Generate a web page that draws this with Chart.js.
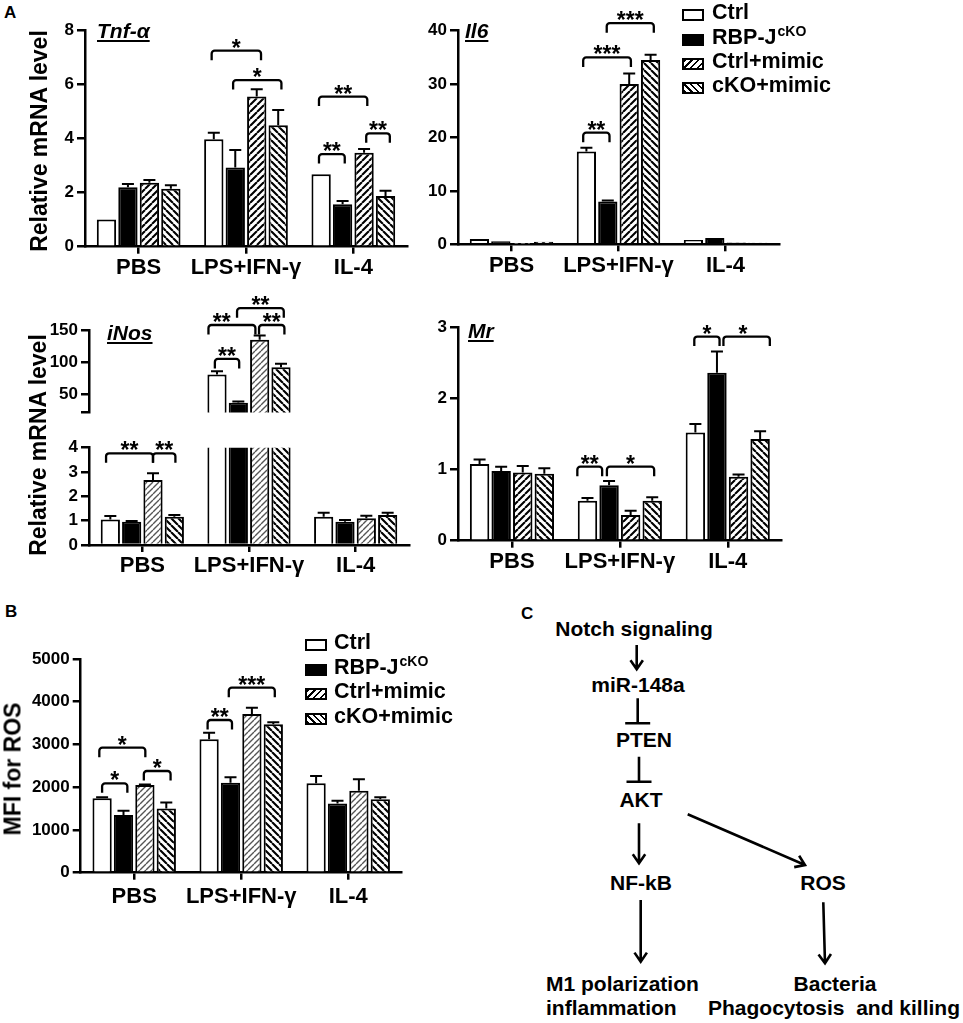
<!DOCTYPE html>
<html><head><meta charset="utf-8">
<script src="https://cdn.jsdelivr.net/npm/chart.js@4.4.0/dist/chart.umd.min.js"></script>
<style>
body{margin:0;background:#fff;width:963px;height:1023px;position:relative;overflow:hidden;font-family:"Liberation Sans",Arial,sans-serif;font-weight:bold;color:#000}
canvas{position:absolute}
.a{position:absolute;white-space:nowrap;line-height:1}
.yt{position:absolute;white-space:nowrap;line-height:1;font-size:23px;transform:translate(-50%,-50%) rotate(-90deg)}
.gt{position:absolute;white-space:nowrap;line-height:1;font-size:21px;font-style:italic;text-decoration:underline;text-decoration-thickness:1.5px;text-underline-offset:2px}
.sw{position:absolute;width:22px;height:12px;box-sizing:border-box;border:2px solid #000}
.lt{position:absolute;white-space:nowrap;line-height:1;font-size:21.5px}
.lt sup{font-size:14px;vertical-align:0;position:relative;top:-8px;margin-left:1px}
.dt{position:absolute;white-space:pre;line-height:1;font-size:21px;transform:translate(-50%,-50%)}
.dl{position:absolute;white-space:pre;line-height:1;font-size:21px;transform:translate(0,-50%)}
</style></head>
<body>
<script>
const FONT = '"Liberation Sans", Arial, sans-serif';
const categories = ['PBS', 'LPS+IFN-γ', 'IL-4'];
const seriesNames = ['Ctrl', 'RBP-J cKO', 'Ctrl+mimic', 'cKO+mimic'];

// Tnf-α
const tnfTicks = [0, 2, 4, 6, 8];
const tnfCtrl = [1.01, 3.98, 2.68], tnfCtrlErr = [0, 0.24, 0];
const tnfKO   = [2.20, 2.93, 1.57], tnfKOErr   = [0.12, 0.65, 0.12];
const tnfCM   = [2.37, 5.56, 3.48], tnfCMErr   = [0.10, 0.27, 0.14];
const tnfKM   = [2.15, 4.50, 1.88], tnfKMErr   = [0.13, 0.56, 0.19];
const tnfSig  = [[1, -0.1, 2.2, 7.26, '*'], [1, 0.9, 3.15, 6.17, '*'], [2, -0.1, 2.15, 5.56, '**'], [2, -0.1, 1.1, 3.43, '**'], [2, 2.1, 3.2, 4.2, '**']];

// Il6
const il6Ticks = [0, 10, 20, 30, 40];
const il6Ctrl = [1.0, 17.4, 0.8], il6CtrlErr = [0, 0.7, 0];
const il6KO   = [0.55, 8.0, 1.2], il6KOErr   = [0, 0.2, 0];
const il6CM   = [0.1, 30.0, 0.35], il6CMErr  = [0, 2.0, 0];
const il6KM   = [0.5, 34.5, 0.3], il6KMErr   = [0, 1.0, 0];
const il6Sig  = [[1, -0.15, 1.08, 20.9, '**'], [1, -0.15, 2.08, 35.0, '***'], [1, 0.95, 3.15, 41.4, '***']];

// iNos (broken axis)
const inosTicksHigh = [22, 50, 100, 150];
const inosTicksLow = [0, 1, 2, 3, 4];
const inosCtrl = [1.05, 81, 1.16], inosCtrlErr = [0.14, 5, 0.17];
const inosKO   = [0.96, 37, 0.96], inosKOErr   = [0.03, 2, 0.07];
const inosCM   = [2.67, 135, 1.10], inosCMErr  = [0.28, 6.5, 0.10];
const inosKM   = [1.16, 92, 1.23], inosKMErr   = [0.07, 5.6, 0.10];
const inosSigLow  = [[0, -0.2, 2, 3.77, '**'], [0, 2, 3.05, 3.77, '**']];
const inosSigHigh = [[1, -0.1, 1.04, 105, '**'], [1, -0.4, 1.8, 157.8, '**', 0.22], [1, 1.97, 3.16, 157.8, '**'], [1, 0.94, 3.13, 183.9, '**']];

// Mr
const mrTicks = [0, 1, 2, 3];
const mrCtrl = [1.08, 0.56, 1.52], mrCtrlErr = [0.06, 0.04, 0.12];
const mrKO   = [0.98, 0.78, 2.36], mrKOErr   = [0.06, 0.06, 0.30];
const mrCM   = [0.96, 0.36, 0.90], mrCMErr   = [0.09, 0.06, 0.03];
const mrKM   = [0.94, 0.56, 1.43], mrKMErr   = [0.08, 0.05, 0.11];
const mrSig  = [[1, -0.47, 0.68, 1.04, '**'], [1, 0.9, 3.09, 1.04, '*'], [2, -0.05, 1.12, 2.87, '*'], [2, 1.3, 3.45, 2.87, '*', 2.2]];

// ROS
const rosTicks = [0, 1000, 2000, 3000, 4000, 5000];
const rosCtrl = [1740, 3120, 2090], rosCtrlErr = [25, 156, 172];
const rosKO   = [1350, 2106, 1622], rosKOErr   = [100, 125, 63];
const rosCM   = [2051, 3713, 1919], rosCMErr   = [15, 148, 265];
const rosKM   = [1505, 3471, 1716], rosKMErr   = [140, 47, 47];
const rosSig  = [[0, -0.13, 2.02, 2925, '*'], [0, 0, 1.18, 2090, '*'], [0, 1.95, 3.2, 2379, '*'], [1, -0.07, 1.07, 3573, '**'], [1, 0.92, 3.07, 4329, '***']];

function hatch(dir, color, lw, p) {
  const c = document.createElement('canvas');
  c.width = p; c.height = p;
  const g = c.getContext('2d');
  g.fillStyle = '#fff'; g.fillRect(0, 0, p, p);
  g.strokeStyle = color; g.lineWidth = lw;
  g.beginPath();
  for (let k = -1; k <= 1; k++) {
    if (dir > 0) { g.moveTo(k * p, p); g.lineTo(k * p + p, 0); }
    else { g.moveTo(k * p, 0); g.lineTo(k * p + p, p); }
  }
  g.stroke();
  return g.createPattern(c, 'repeat');
}
const patSlash = hatch(1, '#000', 2.1, 7);
const patBack = hatch(-1, '#000', 2.1, 7);
const patSlashGrey = hatch(1, '#555', 1.4, 6);

const marksPlugin = {
  id: 'marks',
  afterDatasetsDraw(chart, args, opts) {
    const ctx = chart.ctx, ys = chart.scales.y;
    ctx.save();
    ctx.strokeStyle = '#000'; ctx.lineWidth = 2;
    chart.data.datasets.forEach((ds, di) => {
      chart.getDatasetMeta(di).data.forEach((bar, i) => {
        const v = ds.data[i], e = opts.errs[di][i];
        if (!e || v < ys.min || v + e > ys.max) return;
        const yTop = ys.getPixelForValue(v + e);
        ctx.beginPath();
        ctx.moveTo(bar.x, bar.y); ctx.lineTo(bar.x, yTop);
        ctx.moveTo(bar.x - 6, yTop); ctx.lineTo(bar.x + 6, yTop);
        ctx.stroke();
      });
    });
    ctx.lineWidth = 2.3; ctx.fillStyle = '#000';
    ctx.font = 'bold 23px ' + FONT; ctx.textAlign = 'center'; ctx.textBaseline = 'alphabetic';
    (opts.sig || []).forEach(([cat, a, b, val, label, lx]) => {
      const b0 = chart.getDatasetMeta(0).data[cat], b1 = chart.getDatasetMeta(1).data[cat];
      const step = b1.x - b0.x;
      const xa = b0.x + a * step, xb = b0.x + b * step, y = ys.getPixelForValue(val);
      const leg = 9.5, r = 3;
      ctx.beginPath();
      ctx.moveTo(xa, y + leg); ctx.arcTo(xa, y, xa + r, y, r);
      ctx.arcTo(xb, y, xb, y + r, r); ctx.lineTo(xb, y + leg);
      ctx.stroke();
      const tx = lx === undefined ? (xa + xb) / 2 : b0.x + lx * step;
      ctx.fillText(label, tx, y + 5);
    });
    ctx.restore();
  }
};

function panel(o) {
  const cv = document.createElement('canvas');
  cv.width = o.w; cv.height = o.h;
  cv.style.left = o.left + 'px'; cv.style.top = o.top + 'px';
  document.body.appendChild(cv);
  const W = o.axL - o.left, padTop = o.axT - o.top, padRight = o.left + o.w - o.axR;
  const H = o.top + o.h - o.axB;
  const showX = o.showX !== false;
  const fills = ['#fff', '#000', o.greyCM ? patSlashGrey : patSlash, patBack];
  return new Chart(cv, {
    type: 'bar',
    data: {
      labels: categories,
      datasets: o.series.map((d, i) => ({
        label: seriesNames[i], data: d, backgroundColor: fills[i],
        borderColor: '#000', borderWidth: 2, categoryPercentage: 0.8, barPercentage: 0.9
      }))
    },
    options: {
      responsive: false, animation: false, events: [],
      layout: { padding: { left: 0, top: padTop, right: padRight, bottom: showX ? 0 : H } },
      plugins: { legend: { display: false }, tooltip: { enabled: false }, marks: { errs: o.errs, sig: o.sig } },
      scales: {
        x: {
          display: showX, offset: true,
          grid: { display: true, drawOnChartArea: false, drawTicks: true, tickLength: 7, lineWidth: 2.5, tickWidth: 2.5, tickColor: '#000', color: '#000', offset: false },
          border: { display: true, color: '#000', width: 2.5 },
          ticks: { color: '#000', font: { family: FONT, size: 22, weight: 'bold' }, padding: o.xpad || 1, maxRotation: 0, minRotation: 0, autoSkip: false },
          afterFit: s => { s.height = H; }
        },
        y: {
          min: o.min, max: o.max,
          afterBuildTicks: s => { s.ticks = o.ticks.map(v => ({ value: v })); },
          grid: { display: true, drawOnChartArea: false, drawTicks: true, tickLength: 8, lineWidth: 2.5, tickWidth: 2.5, tickColor: '#000', color: '#000' },
          border: { display: true, color: '#000', width: 2.5 },
          ticks: { color: '#000', font: { family: FONT, size: 17, weight: 'bold' }, padding: 3,
            callback: v => (o.hide && o.hide.includes(v)) ? '' : String(v) },
          afterFit: s => { s.width = W; }
        }
      }
    },
    plugins: [marksPlugin]
  });
}

panel({ left: 40, top: 0, w: 380, h: 290, axL: 85, axR: 407, axT: 30.7, axB: 246.7, min: 0, max: 8, ticks: tnfTicks,
  series: [tnfCtrl, tnfKO, tnfCM, tnfKM], errs: [tnfCtrlErr, tnfKOErr, tnfCMErr, tnfKMErr], sig: tnfSig });
panel({ left: 420, top: 0, w: 370, h: 290, axL: 458, axR: 779, axT: 30.7, axB: 244.3, min: 0, max: 40, ticks: il6Ticks,
  series: [il6Ctrl, il6KO, il6CM, il6KM], errs: [il6CtrlErr, il6KOErr, il6CMErr, il6KMErr], sig: il6Sig });
panel({ left: 45, top: 285, w: 375, h: 158, axL: 89, axR: 409, axT: 330, axB: 427.7, min: 22, max: 150, ticks: inosTicksHigh, hide: [22],
  showX: false, greyCM: true,
  series: [inosCtrl, inosKO, inosCM, inosKM], errs: [inosCtrlErr, inosKOErr, inosCMErr, inosKMErr], sig: inosSigHigh });
panel({ left: 45, top: 434, w: 375, h: 150, axL: 89, axR: 409, axT: 447.7, axB: 545, min: 0, max: 4, ticks: inosTicksLow,
  greyCM: true,
  series: [inosCtrl, inosKO, inosCM, inosKM], errs: [inosCtrlErr, inosKOErr, inosCMErr, inosKMErr], sig: inosSigLow });
panel({ left: 420, top: 305, w: 370, h: 285, axL: 458, axR: 781.7, axT: 327.3, axB: 540.7, min: 0, max: 3, ticks: mrTicks,
  series: [mrCtrl, mrKO, mrCM, mrKM], errs: [mrCtrlErr, mrKOErr, mrCMErr, mrKMErr], sig: mrSig });
panel({ left: 20, top: 612, w: 390, h: 305, axL: 80.7, axR: 401.7, axT: 659, axB: 872.7, min: 0, max: 5000, ticks: rosTicks,
  greyCM: true, xpad: 4,
  series: [rosCtrl, rosKO, rosCM, rosKM], errs: [rosCtrlErr, rosKOErr, rosCMErr, rosKMErr], sig: rosSig });
</script>

<!-- panel letters -->
<div class="a" style="left:4px;top:4px;font-size:17px">A</div>
<div class="a" style="left:5px;top:603px;font-size:17px">B</div>
<div class="a" style="left:521px;top:605px;font-size:17px">C</div>

<!-- gene titles -->
<div class="gt" style="left:97px;top:20px">Tnf-α</div>
<div class="gt" style="left:465px;top:20px">Il6</div>
<div class="gt" style="left:107px;top:322px">iNos</div>
<div class="gt" style="left:468px;top:320px">Mr</div>

<!-- y titles -->
<div class="yt" style="left:38.5px;top:140.7px">Relative mRNA level</div>
<div class="yt" style="left:38px;top:445px">Relative mRNA level</div>
<div class="yt" style="left:13px;top:769px">MFI for ROS</div>

<!-- legend A -->
<div class="sw" style="left:682px;top:9px;background:#fff"></div>
<div class="sw" style="left:682px;top:34px;background:#000"></div>
<div class="sw" style="left:682px;top:58px;background:repeating-linear-gradient(135deg,#000 0 1.6px,#fff 1.6px 4.8px)"></div>
<div class="sw" style="left:682px;top:82px;background:repeating-linear-gradient(45deg,#000 0 1.6px,#fff 1.6px 4.8px)"></div>
<div class="lt" style="left:712px;top:2px">Ctrl</div>
<div class="lt" style="left:712px;top:27px">RBP-J<sup>cKO</sup></div>
<div class="lt" style="left:712px;top:51px">Ctrl+mimic</div>
<div class="lt" style="left:712px;top:75px">cKO+mimic</div>

<!-- legend B -->
<div class="sw" style="left:305px;top:639px;background:#fff"></div>
<div class="sw" style="left:305px;top:664px;background:#000"></div>
<div class="sw" style="left:305px;top:688px;background:repeating-linear-gradient(135deg,#000 0 1.6px,#fff 1.6px 4.8px)"></div>
<div class="sw" style="left:305px;top:713px;background:repeating-linear-gradient(45deg,#000 0 1.6px,#fff 1.6px 4.8px)"></div>
<div class="lt" style="left:334px;top:632px">Ctrl</div>
<div class="lt" style="left:334px;top:657px">RBP-J<sup>cKO</sup></div>
<div class="lt" style="left:334px;top:681px">Ctrl+mimic</div>
<div class="lt" style="left:334px;top:706px">cKO+mimic</div>

<!-- diagram C -->
<div class="dt" style="left:634px;top:628px">Notch signaling</div>
<div class="dt" style="left:638px;top:684px">miR-148a</div>
<div class="dt" style="left:644px;top:739px">PTEN</div>
<div class="dt" style="left:641px;top:799px">AKT</div>
<div class="dt" style="left:641px;top:882px">NF-kB</div>
<div class="dt" style="left:823px;top:882px">ROS</div>
<div class="dl" style="left:546px;top:983px">M1 polarization</div>
<div class="dl" style="left:546px;top:1007px">inflammation</div>
<div class="dt" style="left:835px;top:983px">Bacteria</div>
<div class="dt" style="left:834px;top:1007px">Phagocytosis  and killing</div>
<svg id="diag" width="963" height="1023" style="position:absolute;left:0;top:0" xmlns="http://www.w3.org/2000/svg"></svg>
<script>
(function () {
  const svg = document.getElementById('diag');
  const arrows = [[636.7, 645, 636.7, 669.3], [639, 823.3, 639, 863.3], [687.7, 814.3, 805, 865], [640.7, 900, 640.7, 961.7], [823.3, 902.3, 825, 963.3]];
  const blocks = [[637.7, 698.3, 637.7, 723.3, 12.5], [639, 756.7, 639, 781.7, 12.5]];
  let d = '';
  arrows.forEach(([x1, y1, x2, y2]) => {
    const ang = Math.atan2(y2 - y1, x2 - x1), L = 11, sp = 0.6;
    d += `M${x1} ${y1}L${x2} ${y2}`;
    d += `M${x2 - L * Math.cos(ang - sp)} ${y2 - L * Math.sin(ang - sp)}L${x2} ${y2}L${x2 - L * Math.cos(ang + sp)} ${y2 - L * Math.sin(ang + sp)}`;
  });
  blocks.forEach(([x1, y1, x2, y2, h]) => {
    d += `M${x1} ${y1}L${x2} ${y2}M${x2 - h} ${y2}L${x2 + h} ${y2}`;
  });
  const p = document.createElementNS('http://www.w3.org/2000/svg', 'path');
  p.setAttribute('d', d); p.setAttribute('stroke', '#000'); p.setAttribute('stroke-width', '2.6'); p.setAttribute('fill', 'none');
  svg.appendChild(p);
})();
</script>
</body></html>
